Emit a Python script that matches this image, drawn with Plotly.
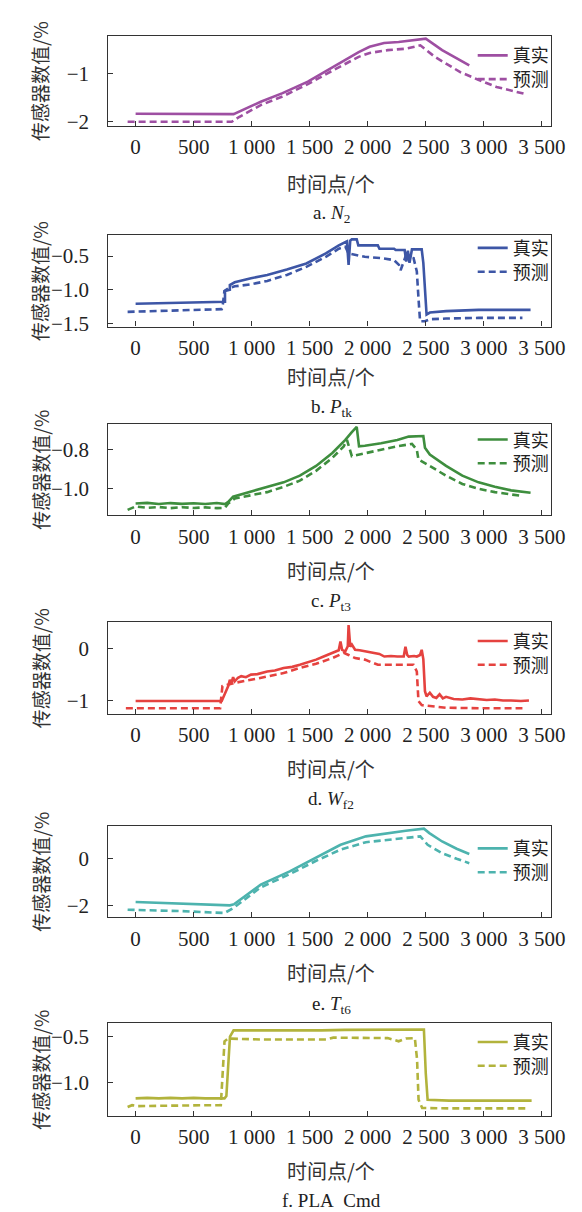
import plotly.graph_objects as go

# ---------------- data ----------------
tick_vals = [0, 500, 1000, 1500, 2000, 2500, 3000, 3500]
tick_text = ["0", "500", "1 000", "1 500", "2 000", "2 500", "3 000", "3 500"]
series_names = ["真实", "预测"]
captions = ["a. <i>N</i><sub>2</sub>", "b. <i>P</i><sub>tk</sub>", "c. <i>P</i><sub>t3</sub>",
            "d. <i>W</i><sub>f2</sub>", "e. <i>T</i><sub>t6</sub>", "f. PLA\u00a0\u00a0Cmd"]

# a. N2
real_a_x = [0, 844, 1078, 1266, 1484, 1703, 1922, 2016, 2141, 2266, 2391, 2500, 2641, 2875]
real_a_y = [-1.84, -1.85, -1.59, -1.41, -1.17, -0.86, -0.55, -0.44, -0.36, -0.34, -0.30, -0.27, -0.51, -0.83]
pred_a_x = [-69, 828, 891, 1078, 1266, 1484, 1703, 1922, 2016, 2172, 2328, 2453, 2578, 2797, 2953, 3109, 3359]
pred_a_y = [-2.01, -2.01, -1.91, -1.66, -1.48, -1.22, -0.93, -0.65, -0.57, -0.51, -0.48, -0.41, -0.65, -0.97, -1.13, -1.28, -1.43]

# b. Ptk
real_b_x = [0, 742, 770, 770, 812, 812, 854, 994, 1134, 1303, 1471, 1639, 1751, 1821, 1835, 1849, 1863, 1905, 1919,
            2087, 2101, 2227, 2241, 2318, 2332, 2346, 2360, 2381, 2465, 2479, 2507, 2535, 2675, 2955, 3403]
real_b_y = [-1.21, -1.18, -1.18, -1.02, -1.0, -0.93, -0.89, -0.83, -0.78, -0.70, -0.61, -0.46, -0.34, -0.28, -0.63, -0.27, -0.25, -0.25, -0.34,
            -0.34, -0.39, -0.39, -0.41, -0.41, -0.58, -0.42, -0.60, -0.40, -0.40, -0.60, -1.37, -1.34, -1.32, -1.30, -1.30]
pred_b_x = [-69, 742, 748, 765, 798, 854, 994, 1134, 1303, 1471, 1639, 1751, 1807, 1835, 1975, 2115, 2227, 2269, 2283,
            2325, 2395, 2423, 2437, 2451, 2493, 2535, 2675, 2955, 3333]
pred_b_y = [-1.33, -1.29, -1.27, -1.02, -0.98, -0.95, -0.92, -0.87, -0.78, -0.66, -0.51, -0.39, -0.36, -0.46, -0.51, -0.53, -0.56, -0.63, -0.71,
            -0.51, -0.53, -0.73, -1.12, -1.47, -1.47, -1.44, -1.43, -1.42, -1.42]

# c. Pt3
real_c_x = [0, 100, 200, 300, 400, 500, 600, 700, 770, 798, 840, 994, 1134, 1275, 1415, 1555, 1695, 1807, 1863, 1905, 1925,
            1975, 2115, 2255, 2353, 2479, 2493, 2535, 2675, 2815, 2955, 3095, 3235, 3403]
real_c_y = [-1.075, -1.072, -1.078, -1.073, -1.077, -1.074, -1.078, -1.073, -1.078, -1.067, -1.04, -1.013, -0.99, -0.967, -0.933, -0.883, -0.817, -0.75, -0.71, -0.683, -0.783,
            -0.78, -0.767, -0.75, -0.733, -0.73, -0.79, -0.825, -0.883, -0.933, -0.967, -0.99, -1.008, -1.02]
pred_c_x = [-69, 0, 100, 200, 300, 400, 500, 600, 700, 770, 798, 854, 994, 1134, 1275, 1415, 1555, 1695, 1793, 1821, 1863,
            1975, 2115, 2255, 2381, 2423, 2437, 2535, 2675, 2815, 2955, 3095, 3333]
pred_c_y = [-1.108, -1.09, -1.097, -1.093, -1.099, -1.094, -1.098, -1.095, -1.099, -1.097, -1.075, -1.05, -1.033, -1.017, -0.99, -0.958, -0.908, -0.842, -0.783, -0.75, -0.833,
            -0.817, -0.80, -0.783, -0.77, -0.80, -0.85, -0.883, -0.933, -0.975, -1.0, -1.017, -1.037]

# d. Wf2
real_d_x = [0, 200, 400, 600, 742, 798, 812, 826, 840, 854, 882, 910, 950, 994, 1050, 1134, 1200, 1275, 1350, 1415,
            1480, 1555, 1620, 1695, 1750, 1765, 1779, 1807, 1828, 1835, 1849, 1863, 1891, 1930, 1975, 2020, 2059, 2100,
            2143, 2200, 2255, 2310, 2325, 2340, 2353, 2400, 2423, 2451, 2465, 2479, 2493, 2507, 2535, 2563, 2591, 2619,
            2647, 2675, 2740, 2815, 2885, 2955, 3025, 3095, 3165, 3235, 3320, 3389]
real_d_y = [-1.01, -1.01, -1.02, -1.01, -1.01, -0.72, -0.60, -0.66, -0.55, -0.63, -0.56, -0.53, -0.55, -0.50, -0.49, -0.44, -0.42, -0.37, -0.35, -0.31,
            -0.27, -0.21, -0.15, -0.08, -0.03, 0.14, -0.02, -0.05, 0.05, 0.46, 0.04, 0.08, -0.02, -0.03, -0.05, -0.06, -0.08, -0.10,
            -0.15, -0.14, -0.15, -0.15, 0.04, -0.12, -0.15, -0.14, -0.15, -0.12, -0.02, -0.20, -0.82, -0.92, -0.85, -0.93, -0.95, -0.88,
            -0.96, -0.93, -0.97, -0.98, -0.96, -0.97, -0.99, -0.98, -1.0, -1.0, -1.01, -1.0]
pred_d_x = [-84, 200, 400, 600, 728, 748, 798, 854, 994, 1134, 1275, 1415, 1555, 1695, 1793, 1835, 1891, 1975, 2087,
            2255, 2395, 2423, 2437, 2465, 2535, 2675, 2955, 3333]
pred_d_y = [-1.15, -1.15, -1.15, -1.15, -1.15, -0.72, -0.69, -0.66, -0.60, -0.53, -0.47, -0.37, -0.29, -0.18, -0.08, -0.12, -0.18, -0.21, -0.31,
            -0.31, -0.31, -0.44, -1.01, -1.09, -1.11, -1.14, -1.15, -1.15]

# e. Tt6
real_e_x = [0, 400, 813, 850, 1078, 1328, 1547, 1766, 1984, 2172, 2328, 2484, 2531, 2641, 2766, 2875]
real_e_y = [-1.86, -1.93, -2.0, -1.95, -1.11, -0.54, 0.03, 0.6, 0.96, 1.1, 1.2, 1.29, 1.1, 0.74, 0.43, 0.2]
pred_e_x = [-69, 400, 766, 844, 1078, 1328, 1547, 1766, 1984, 2172, 2328, 2453, 2516, 2641, 2766, 2875]
pred_e_y = [-2.19, -2.25, -2.33, -2.11, -1.23, -0.66, -0.11, 0.39, 0.71, 0.81, 0.91, 0.96, 0.6, 0.24, 0.0, -0.19]

# f. PLA Cmd
real_f_x = [0, 100, 200, 300, 400, 500, 600, 700, 766, 782, 797, 813, 844, 1000, 1200, 1400, 1600, 1800, 2000, 2200,
            2400, 2484, 2500, 2516, 2700, 3000, 3412]
real_f_y = [-1.175, -1.17, -1.175, -1.17, -1.175, -1.17, -1.175, -1.172, -1.175, -1.15, -0.83, -0.50, -0.43, -0.43, -0.435, -0.435, -0.43, -0.425, -0.425, -0.425,
            -0.42, -0.42, -0.90, -1.19, -1.20, -1.20, -1.20]
pred_f_x = [-69, -30, 16, 200, 400, 600, 734, 750, 766, 797, 1078, 1400, 1641, 1703, 1900, 2172, 2266, 2328, 2406, 2425,
            2438, 2469, 2700, 3000, 3359]
pred_f_y = [-1.27, -1.25, -1.26, -1.255, -1.25, -1.25, -1.25, -0.90, -0.55, -0.52, -0.53, -0.53, -0.53, -0.51, -0.51, -0.515, -0.55, -0.52, -0.515, -0.75,
            -1.19, -1.28, -1.285, -1.285, -1.285]

# ---------------- styling / layout ----------------
W, H = 582, 1212
colors = ["#9e4fa2", "#3d56a6", "#3e8e3e", "#e5423f", "#4db3ae", "#b2b33c"]
y_ranges = [[-2.10, -0.21], [-1.55, -0.19], [-1.135, -0.668], [-1.256, 0.51], [-2.51, 1.41], [-1.365, -0.354]]
y_dticks = [1, 0.5, 0.2, 1, 2, 0.5]
y_formats = ["d", ".1f", ".1f", "d", "d", ".1f"]

real_x = [real_a_x, real_b_x, real_c_x, real_d_x, real_e_x, real_f_x]
real_y = [real_a_y, real_b_y, real_c_y, real_d_y, real_e_y, real_f_y]
pred_x = [pred_a_x, pred_b_x, pred_c_x, pred_d_x, pred_e_x, pred_f_x]
pred_y = [pred_a_y, pred_b_y, pred_c_y, pred_d_y, pred_e_y, pred_f_y]

box_left, box_right = 103, 557
box_tops = [28, 229, 419, 619, 824, 1023]
box_bots = [119, 321, 511, 711, 916, 1116]
xtitle_y = [177, 371, 567, 766, 972, 1171]
caption_y = [208, 403, 598, 798, 1004, 1201]
legend_mid = [60, 254, 447, 650, 859, 1054]
legend_half_gap = 12

SERIF = "Liberation Serif, Times New Roman, serif"
CJK = "Noto Sans CJK SC"
TXT = "#222222"


def fx(p):
    return p / W


def fy(p):
    return 1 - p / H


fig = go.Figure()
layout = dict(
    width=W, height=H, margin=dict(l=0, r=0, t=0, b=0),
    paper_bgcolor="white", plot_bgcolor="white", showlegend=True,
)
annotations = []

for i in range(6):
    n = "" if i == 0 else str(i + 1)
    leg_real = "legend" if i == 0 else "legend" + str(2 * i + 1)
    leg_pred = "legend" + str(2 * i + 2)
    fig.add_trace(go.Scatter(x=real_x[i], y=real_y[i], mode="lines", name=series_names[0],
                             line=dict(color=colors[i], width=2.6), xaxis="x" + n, yaxis="y" + n,
                             legend=leg_real))
    fig.add_trace(go.Scatter(x=pred_x[i], y=pred_y[i], mode="lines", name=series_names[1],
                             line=dict(color=colors[i], width=2.6, dash="7px,4px"), xaxis="x" + n, yaxis="y" + n,
                             legend=leg_pred))
    layout["xaxis" + n] = dict(
        domain=[fx(box_left), fx(box_right)], anchor="y" + n, range=[-235, 3576],
        tickvals=tick_vals, ticktext=tick_text, ticks="inside", ticklen=5, tickwidth=1.2,
        tickcolor="#333", showline=True, linecolor="#333", linewidth=1.3, mirror=True,
        showgrid=False, zeroline=False, tickfont=dict(family=SERIF, size=21, color=TXT),
        ticklabelstandoff=2,
    )
    layout["yaxis" + n] = dict(
        domain=[fy(box_bots[i]), fy(box_tops[i])], anchor="x" + n, range=y_ranges[i],
        dtick=y_dticks[i], tick0=0, tickformat=y_formats[i], ticks="inside", ticklen=5, tickwidth=1.2,
        tickcolor="#333", showline=True, linecolor="#333", linewidth=1.3, mirror=True,
        showgrid=False, zeroline=False, tickfont=dict(family=SERIF, size=21, color=TXT),
        ticklabelstandoff=14,
    )
    rows = (legend_mid[i] - legend_half_gap, legend_mid[i] + legend_half_gap)
    for leg, row in ((leg_real, rows[0]), (leg_pred, rows[1])):
        layout[leg] = dict(
            x=fx(477), xanchor="left", y=fy(row), yanchor="middle",
            bgcolor="rgba(0,0,0,0)", borderwidth=0,
            font=dict(family=CJK, size=18, color=TXT),
        )
    yc = (box_tops[i] + box_bots[i]) / 2
    annotations.append(dict(text="传感器数值/%", x=fx(33), y=fy(yc), xref="paper", yref="paper",
                            showarrow=False, textangle=-90, xanchor="center", yanchor="middle",
                            font=dict(family=CJK, size=19, color="#333")))
    annotations.append(dict(text="时间点/个", x=fx(332), y=fy(xtitle_y[i]), xref="paper", yref="paper",
                            showarrow=False, xanchor="center", yanchor="middle",
                            font=dict(family=CJK, size=20, color="#333")))
    annotations.append(dict(text=captions[i], x=fx(332), y=fy(caption_y[i]), xref="paper", yref="paper",
                            showarrow=False, xanchor="center", yanchor="middle",
                            font=dict(family=SERIF, size=19, color=TXT)))

layout["annotations"] = annotations
fig.update_layout(**layout)
fig.write_html("out.html")
